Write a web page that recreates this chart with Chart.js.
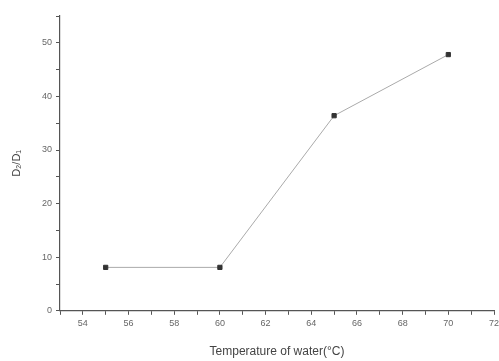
<!DOCTYPE html>
<html><head><meta charset="utf-8">
<script src="https://cdn.jsdelivr.net/npm/chart.js@4/dist/chart.umd.min.js"></script>
<style>html,body{margin:0;padding:0;background:#fff}#w{width:499px;height:361px}</style>
</head><body><div id="w"><canvas id="c"></canvas></div>
<script>
const temperatures = [55, 60, 65, 70];
const ratioValues = [8.1, 8.1, 36.4, 47.8];
const xTicks = [54, 56, 58, 60, 62, 64, 66, 68, 70, 72];
const yTicks = [0, 10, 20, 30, 40, 50];
const xTitle = 'Temperature of water(°C)';
const yTitle = 'D₂/D₁';

const points = temperatures.map((t, i) => ({x: t, y: ratioValues[i]}));
const ink = '#555';
new Chart(document.getElementById('c'), {
  type: 'scatter',
  data: { datasets: [{
    data: points, showLine: true, borderColor: '#aaa', borderWidth: 1,
    pointStyle: 'rect', pointRadius: 3, pointBackgroundColor: '#333', pointBorderColor: '#333'
  }]},
  options: {
    responsive: true, maintainAspectRatio: false, animation: false,
    plugins: { legend: {display: false}, tooltip: {enabled: false} },
    layout: { padding: {top: 16, right: 0, left: 10, bottom: 2} },
    scales: {
      x: {
        type: 'linear', min: 53, max: 72,
        afterBuildTicks: s => { s.ticks = []; for (let v = 53; v <= 72; v++) s.ticks.push({value: v}); },
        afterFit: s => { s.paddingRight = 1; },
        grid: { display: true, drawOnChartArea: false, drawTicks: true, tickLength: 4, color: ink, lineWidth: 1 },
        border: { display: true, color: ink, width: 1.2 },
        ticks: { autoSkip: false, maxRotation: 0, padding: 3, color: '#666', font: {family: 'Liberation Sans', size: 9},
          callback: v => xTicks.includes(v) ? String(v) : '' },
        title: { display: true, text: xTitle, color: '#444', font: {family: 'Liberation Sans', size: 12}, padding: {top: 13, bottom: 0} }
      },
      y: {
        min: 0, max: 55,
        afterBuildTicks: s => { s.ticks = []; for (let v = 0; v <= 55; v += 5) s.ticks.push({value: v}); },
        afterFit: s => { s.width = 50; },
        grid: { display: true, drawOnChartArea: false, drawTicks: true, tickLength: 4, color: ink, lineWidth: 1 },
        border: { display: true, color: ink, width: 1.2 },
        ticks: { autoSkip: false, padding: 4, color: '#666', font: {family: 'Liberation Sans', size: 9},
          callback: v => yTicks.includes(v) ? String(v) : '' },
        title: { display: true, text: yTitle, color: '#444', font: {family: 'Liberation Sans', size: 11}, padding: {top: 0, bottom: 4} }
      }
    }
  }
});
</script></body></html>
